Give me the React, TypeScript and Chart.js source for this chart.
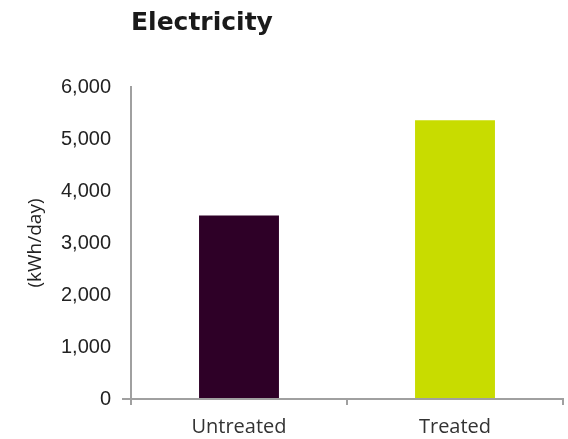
import React, { useEffect, useRef } from "react";
import { Chart, registerables } from "chart.js";

Chart.register(...registerables);

const categories = ["Untreated", "Treated"];
const values = [3530, 5360];
const barColors = ["#2e0027", "#c8dc00"];
const yTicks = [0, 1000, 2000, 3000, 4000, 5000, 6000];
const titleText = "Electricity";
const yTitle = "(kWh/day)";

export default function App() {
  const ref = useRef<HTMLCanvasElement | null>(null);
  useEffect(() => {
    if (!ref.current) return;
    const chart = new Chart(ref.current, {
      type: "bar",
      data: {
        labels: categories,
        datasets: [
          {
            data: values,
            backgroundColor: barColors,
            borderWidth: 0,
            barPercentage: 1,
            categoryPercentage: 0.37,
          },
        ],
      },
      options: {
        animation: false,
        responsive: false,
        maintainAspectRatio: false,
        layout: { padding: { top: 0, right: 5, bottom: 0, left: 0 } },
        plugins: {
          legend: { display: false },
          tooltip: { enabled: false },
          title: {
            display: true,
            text: titleText,
            align: "start",
            fullSize: false,
            color: "#1a1a1a",
            font: { family: "'DejaVu Sans'", size: 25, weight: "bold" },
            padding: { top: 8, bottom: 49 },
          },
        },
        scales: {
          x: {
            offset: true,
            border: { display: true, color: "#a0a0a0", width: 2 },
            grid: {
              offset: true,
              drawOnChartArea: false,
              tickLength: 6,
              color: (ctx: any) => (ctx.index === 2 ? "rgba(0,0,0,0)" : "#a0a0a0"),
              lineWidth: 2,
            },
            ticks: {
              color: "#333333",
              font: { family: "'Open Sans'", size: 20 },
              padding: 10,
            },
            afterFit: (s: any) => {
              s.height = 40;
            },
          },
          y: {
            min: 0,
            max: 6000,
            afterBuildTicks: (s: any) => {
              s.ticks = yTicks.map((v) => ({ value: v }));
            },
            border: { display: true, color: "#a0a0a0", width: 2 },
            grid: {
              drawOnChartArea: false,
              tickLength: 9,
              color: (ctx: any) => (ctx.tick && ctx.tick.value === 0 ? "#a0a0a0" : "rgba(0,0,0,0)"),
              lineWidth: 2,
            },
            ticks: {
              color: "#222222",
              font: { family: "'Liberation Sans'", size: 20 },
              padding: 11,
              callback: (v: any) => Number(v).toLocaleString("en-US"),
            },
            title: {
              display: true,
              text: yTitle,
              color: "#222222",
              font: { family: "'Open Sans'", size: 19 },
              padding: { top: 24, bottom: 0 },
            },
            afterFit: (s: any) => {
              s.width = 131;
            },
          },
        },
      },
    });
    return () => chart.destroy();
  }, []);
  return (
    <div style={{ position: "absolute", left: 0, top: 0, width: 568, height: 439, background: "#fff" }}>
      <canvas ref={ref} width={568} height={439} style={{ width: 568, height: 439 }} />
    </div>
  );
}
